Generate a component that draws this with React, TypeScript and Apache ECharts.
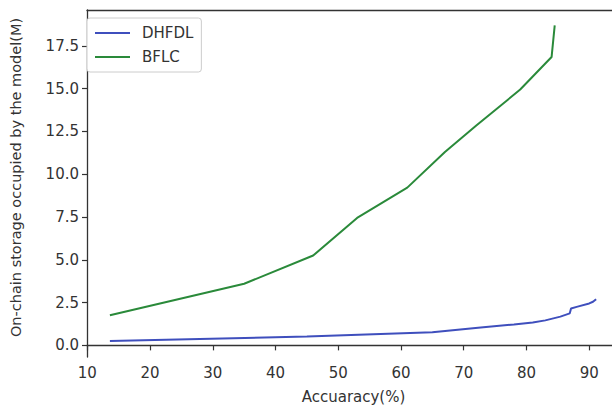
import React, { useEffect, useRef } from "react";
import * as echarts from "echarts";

const dhfdlData: [number, number][] = [
  [13.6, 0.25], [45, 0.52], [65, 0.76], [72.7, 1.05], [78, 1.22], [81, 1.33],
  [83, 1.46], [85.4, 1.68], [86.9, 1.87], [87.1, 2.15], [88, 2.25], [90, 2.45],
  [90.6, 2.55], [91.1, 2.7],
];
const bflcData: [number, number][] = [
  [13.6, 1.76], [35, 3.6], [46, 5.25], [53, 7.45], [61, 9.22], [67, 11.3],
  [72, 12.85], [79, 14.95], [84, 16.85], [84.5, 18.7],
];
const xTicks = [10, 20, 30, 40, 50, 60, 70, 80, 90];
const yTicks = [0, 2.5, 5, 7.5, 10, 12.5, 15, 17.5];
const seriesNames = ["DHFDL", "BFLC"];
const colors = ["#3f4fbd", "#2a8a3a"];

const FONT = "DejaVu Sans";
const TXT = "#333333";
const X_MIN = 9.95;
const X_MAX = 93.63;

export default function App() {
  const ref = useRef<HTMLDivElement>(null);
  useEffect(() => {
    if (!ref.current) return;
    const chart = echarts.init(ref.current, undefined, { renderer: "svg" });
    chart.setOption({
      animation: false,
      backgroundColor: "#ffffff",
      grid: {
        left: 82,
        top: 10,
        bottom: 51,
        right: 0,
        show: false,
      },
      legend: {
        orient: "vertical",
        left: 87,
        top: 18,
        data: seriesNames,
        icon: "rect",
        itemWidth: 35,
        itemHeight: 2,
        itemGap: 6,
        padding: [6, 8, 6, 8],
        borderColor: "#cccccc",
        borderWidth: 1,
        borderRadius: 3,
        backgroundColor: "#ffffff",
        textStyle: { fontFamily: FONT, fontSize: 15, color: TXT, padding: [0, 0, 0, 7], lineHeight: 18 },
      },
      xAxis: [
        {
          type: "value",
          min: X_MIN,
          max: X_MAX,
          name: "Accuaracy(%)",
          nameLocation: "middle",
          nameGap: 32,
          nameTextStyle: { fontFamily: FONT, fontSize: 15, color: TXT, padding: [0, 0, 0, 8] },
          splitLine: { show: false },
          axisLine: { show: true, lineStyle: { color: "#333333", width: 1.3 } },
          axisTick: {
            show: true,
            length: 5,
            customValues: xTicks,
            lineStyle: { color: "#333333", width: 1.2 },
          },
          axisLabel: {
            customValues: xTicks,
            fontFamily: FONT,
            fontSize: 15,
            color: TXT,
            margin: 8,
          },
        },
        {
          type: "value",
          position: "top",
          min: X_MIN,
          max: X_MAX,
          splitLine: { show: false },
          axisLine: { show: true, lineStyle: { color: "#333333", width: 1.3 } },
          axisTick: { show: false },
          axisLabel: { show: false },
        },
      ],
      yAxis: {
        type: "value",
        min: -0.68,
        max: 19.6,
        name: "On-chain storage occupied by the model(M)",
        nameLocation: "middle",
        nameGap: 64,
        nameTextStyle: { fontFamily: FONT, fontSize: 14.5, color: TXT, padding: [0, 0, 0, 12] },
        splitLine: { show: false },
        axisLine: { show: true, lineStyle: { color: "#333333", width: 1.3 } },
        axisTick: {
          show: true,
          length: 5,
          customValues: yTicks,
          lineStyle: { color: "#333333", width: 1.2 },
        },
        axisLabel: {
          customValues: yTicks,
          fontFamily: FONT,
          fontSize: 15,
          color: TXT,
          margin: 8,
          formatter: (v: number) => v.toFixed(1),
        },
      },
      series: [
        {
          name: seriesNames[0],
          type: "line",
          xAxisIndex: 0,
          data: dhfdlData,
          symbol: "none",
          lineStyle: { color: colors[0], width: 2 },
          itemStyle: { color: colors[0] },
        },
        {
          name: seriesNames[1],
          type: "line",
          xAxisIndex: 0,
          data: bflcData,
          symbol: "none",
          lineStyle: { color: colors[1], width: 2 },
          itemStyle: { color: colors[1] },
        },
      ],
    });
    return () => chart.dispose();
  }, []);
  return (
    <div
      ref={ref}
      style={{ position: "fixed", left: 0, top: 0, width: 612, height: 409 }}
    />
  );
}
